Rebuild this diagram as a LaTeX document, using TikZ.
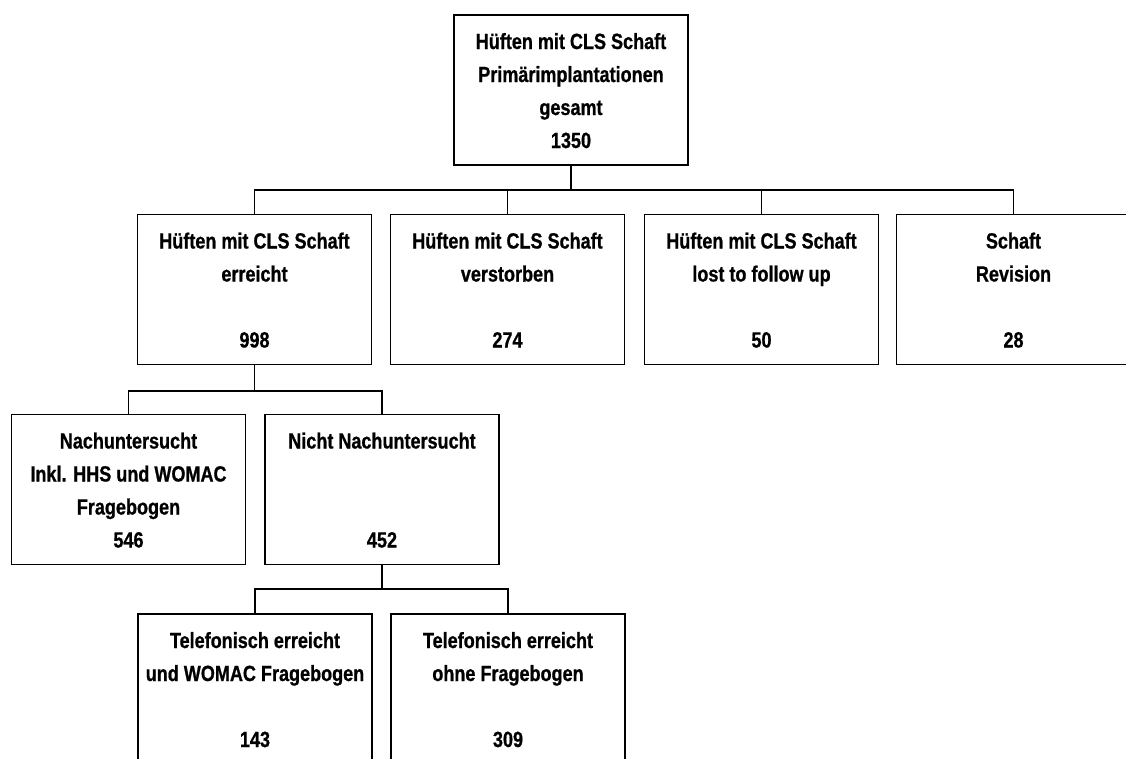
\documentclass[tikz,border=0pt]{standalone}
\usepackage{fontspec}
\setmainfont{Liberation Sans}[FakeStretch=0.82, BoldFeatures={FakeBold=0.8}]
\newcommand{\boxtext}[4]{\parbox[c][150pt][t]{234pt}{\fontsize{22pt}{33pt}\selectfont\bfseries\centering\rule{0pt}{34pt}#1\\\mbox{}#2\\\mbox{}#3\\\mbox{}#4\par}}
\tikzset{
  stepbox/.style={draw, line width=1.8pt, inner sep=0pt, outer sep=0pt},
  conn/.style={line width=1.8pt}
}
\begin{document}
\begin{tikzpicture}[x=1pt,y=-1pt]
\useasboundingbox (0,0) rectangle (1126,758);
\clip (0,0) rectangle (1126,758);
\node[stepbox] (top) at (571,90) {\boxtext{Hüften mit CLS Schaft}{Primärimplantationen}{gesamt}{1350}};
\node[stepbox] (l2a) at (254.5,289.5) {\boxtext{Hüften mit CLS Schaft}{erreicht}{}{998}};
\node[stepbox] (l2b) at (507.5,289.5) {\boxtext{Hüften mit CLS Schaft}{verstorben}{}{274}};
\node[stepbox] (l2c) at (761.5,289.5) {\boxtext{Hüften mit CLS Schaft}{lost to follow up}{}{50}};
\node[stepbox] (l2d) at (1013.5,289.5) {\boxtext{Schaft}{Revision}{}{28}};
\node[stepbox] (l3a) at (128.5,489.5) {\boxtext{Nachuntersucht}{Inkl. HHS und WOMAC}{Fragebogen}{546}};
\node[stepbox] (l3b) at (382,489.5) {\boxtext{Nicht Nachuntersucht}{}{}{452}};
\node[stepbox] (l4a) at (255,689) {\boxtext{Telefonisch erreicht}{und WOMAC Fragebogen}{}{143}};
\node[stepbox] (l4b) at (508,689) {\boxtext{Telefonisch erreicht}{ohne Fragebogen}{}{309}};
\coordinate (bus1) at (0,190);
\coordinate (bus2) at (0,391);
\coordinate (bus3) at (0,589);
\draw[conn] (top.south) -- (top.south |- bus1);
\draw[conn] (l2a.north) |- (bus1 -| l2d.north) -- (l2d.north);
\draw[conn] (l2b.north) -- (l2b.north |- bus1);
\draw[conn] (l2c.north) -- (l2c.north |- bus1);
\draw[conn] (l2a.south) -- (l2a.south |- bus2);
\draw[conn] (l3a.north) |- (bus2 -| l3b.north) -- (l3b.north);
\draw[conn] (l3b.south) -- (l3b.south |- bus3);
\draw[conn] (l4a.north) |- (bus3 -| l4b.north) -- (l4b.north);
\end{tikzpicture}
\end{document}
